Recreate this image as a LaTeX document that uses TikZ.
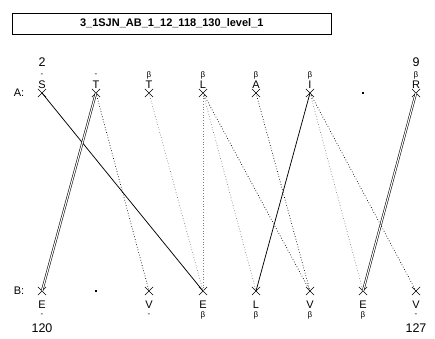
\documentclass[tikz,border=0pt]{standalone}
\usepackage{fontspec}
\setmainfont{Liberation Sans}
\usetikzlibrary{shapes.misc}
\begin{document}
\begin{tikzpicture}[x=1pt,y=-1pt,
  xm/.style={cross out,draw,line width=0.65pt,minimum size=7.5pt,inner sep=0pt},
  dotm/.style={fill,inner sep=0pt,minimum size=1.8pt},
  res/.style={font=\fontsize{11}{12}\selectfont,inner sep=0pt},
  sub/.style={font=\fontsize{8}{9}\selectfont,inner sep=0pt},
  num/.style={font=\fontsize{12.5}{14}\selectfont,inner sep=0pt},
  solidl/.style={line width=0.75pt},
  dbl/.style={double,double distance=1.1pt,line width=0.55pt},
  dk/.style={dotted,line width=0.7pt},
  lt/.style={dotted,line width=0.7pt,black!50},
]
\useasboundingbox (0,0) rectangle (435,338);
\node[draw,line width=0.6pt,minimum width=319pt,minimum height=21pt,inner sep=0pt,anchor=north west,font=\bfseries\fontsize{11}{12}\selectfont] (title) at (12,12.5) {3\_1SJN\_AB\_1\_12\_118\_130\_level\_1};

\node[res] (la) at (19,93) {A:};
\node[res] (lb) at (19,291) {B:};

% top row
\node[xm] (a1) at (42,93) {};
\node[xm] (a2) at (96,93) {};
\node[xm] (a3) at (149,93) {};
\node[xm] (a4) at (203,93) {};
\node[xm] (a5) at (256,93) {};
\node[xm] (a6) at (310,93) {};
\node[dotm] (a7) at (363,93) {};
\node[xm] (a8) at (416,93) {};

\node[res] (ta1) at (42,85) {S};
\node[res] (ta2) at (96,85) {T};
\node[res] (ta3) at (149,85) {T};
\node[res] (ta4) at (203,85) {L};
\node[res] (ta5) at (256,85) {A};
\node[res] (ta6) at (310,85) {I};
\node[res] (ta8) at (416,85) {R};

\node[sub] (sa1) at (42,75) {-};
\node[sub] (sa2) at (96,75) {-};
\node[sub] (sa3) at (149,75) {β};
\node[sub] (sa4) at (203,75) {β};
\node[sub] (sa5) at (256,75) {β};
\node[sub] (sa6) at (310,75) {β};
\node[sub] (sa8) at (416,75) {β};

\node[num] (na1) at (42,62.5) {2};
\node[num] (na8) at (416,62.5) {9};

% bottom row
\node[xm] (b1) at (42,291) {};
\node[dotm] (b2) at (96,291) {};
\node[xm] (b3) at (149,291) {};
\node[xm] (b4) at (203,291) {};
\node[xm] (b5) at (256,291) {};
\node[xm] (b6) at (310,291) {};
\node[xm] (b7) at (363,291) {};
\node[xm] (b8) at (416,291) {};

\node[res] (tb1) at (42,305) {E};
\node[res] (tb3) at (149,305) {V};
\node[res] (tb4) at (203,305) {E};
\node[res] (tb5) at (256,305) {L};
\node[res] (tb6) at (310,305) {V};
\node[res] (tb7) at (363,305) {E};
\node[res] (tb8) at (416,305) {V};

\node[sub] (sb1) at (42,315) {-};
\node[sub] (sb3) at (149,315) {-};
\node[sub] (sb4) at (203,315) {β};
\node[sub] (sb5) at (256,315) {β};
\node[sub] (sb6) at (310,315) {β};
\node[sub] (sb7) at (363,315) {β};
\node[sub] (sb8) at (416,315) {-};

\node[num] (nb1) at (42,328) {120};
\node[num] (nb8) at (416,328) {127};

% connectors
\draw[solidl] (a1.center) -- (b4.center);
\draw[solidl] (a6.center) -- (b5.center);
\draw[dbl] (a2.center) -- (b1.center);
\draw[dbl] (a8.center) -- (b7.center);
\draw[dk] (a2.center) -- (b3.center);
\draw[lt] (a3.center) -- (b4.center);
\draw[lt] (a4.center) -- (b4.center);
\draw[lt] (a4.center) -- (b5.center);
\draw[dk] (a4.center) -- (b6.center);
\draw[dk] (a5.center) -- (b6.center);
\draw[lt] (a6.center) -- (b7.center);
\draw[dk] (a6.center) -- (b8.center);
\end{tikzpicture}
\end{document}
